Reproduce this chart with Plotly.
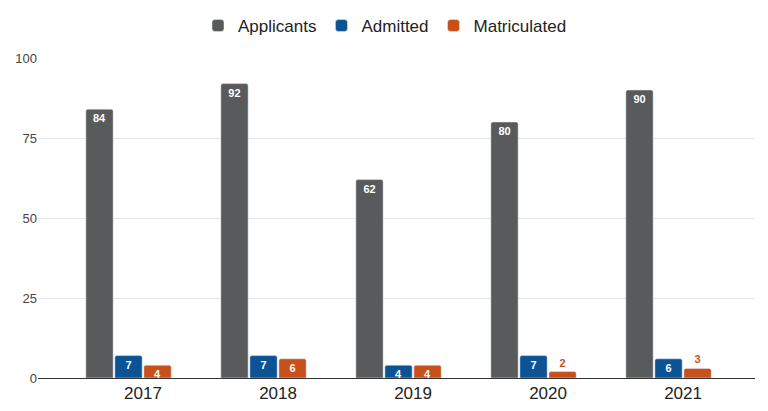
import plotly.graph_objects as go

years = ["2017", "2018", "2019", "2020", "2021"]
applicants = [84, 92, 62, 80, 90]
admitted = [7, 7, 4, 7, 6]
matriculated = [4, 6, 4, 2, 3]

C_APP = "#595a5c"
C_ADM = "#0b5394"
C_MAT = "#c8501a"

def positions(vals, threshold=4):
    return ["inside" if v >= threshold else "outside" for v in vals]

fig = go.Figure()
for name, vals, col in [("Applicants", applicants, C_APP),
                        ("Admitted", admitted, C_ADM),
                        ("Matriculated", matriculated, C_MAT)]:
    fig.add_trace(go.Bar(
        name=name, x=years, y=vals, marker=dict(color=col, cornerradius=2),
        text=[str(v) for v in vals], textposition=positions(vals),
        insidetextanchor="end",
        insidetextfont=dict(color="white", size=11, family="Liberation Sans, Arial", weight="bold"),
        outsidetextfont=dict(color=col, size=11, family="Liberation Sans, Arial", weight="bold"),
        textangle=0, cliponaxis=False, hoverinfo="skip",
    ))
# empty fourth slot in each group (as in the source chart)
fig.add_trace(go.Bar(name="", x=years, y=[None] * len(years), showlegend=False, hoverinfo="skip"))

fig.update_layout(
    width=768, height=411,
    margin=dict(l=30, r=21, t=50, b=41, autoexpand=False),
    paper_bgcolor="white", plot_bgcolor="white",
    barmode="group", bargap=0.14, bargroupgap=0.06,
    uniformtext=dict(minsize=11, mode="show"),
    font=dict(family="Liberation Sans, Arial", color="#222"),
    legend=dict(orientation="h", x=377 / 768, xanchor="center", xref="container",
                y=1 - 18 / 411, yanchor="middle", yref="container",
                font=dict(size=17, color="#222"), traceorder="normal",
                itemwidth=30),
    showlegend=True,
)
fig.update_xaxes(range=[-0.778, 4.533], tickfont=dict(size=17, color="#222"),
                 showgrid=False, showline=True, linecolor="#333", linewidth=1, ticks="")
fig.update_yaxes(range=[0, 100], tickvals=[0, 25, 50, 75, 100],
                 tickfont=dict(size=13, color="#444"), showgrid=True,
                 gridcolor="#e6e6e6", zeroline=False, ticks="")

fig.write_html("out.html")
